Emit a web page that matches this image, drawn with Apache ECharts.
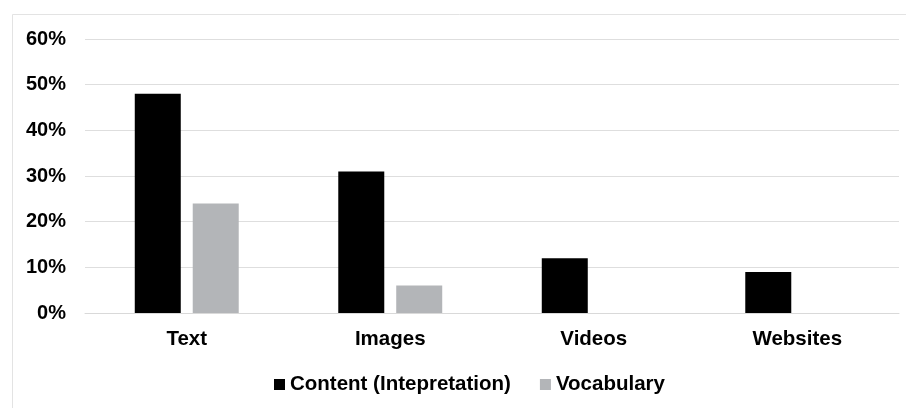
<!DOCTYPE html>
<html>
<head>
<meta charset="utf-8">
<script src="https://cdn.jsdelivr.net/npm/echarts@6/dist/echarts.min.js"></script>
<style>
  html, body { margin: 0; padding: 0; background: #fff; }
  #chart { width: 906px; height: 408px; }
</style>
</head>
<body>
<div id="chart"></div>
<script>
// values, in percent
const categories = ['Text', 'Images', 'Videos', 'Websites'];
const contentValues = [48, 31, 12, 9];
const vocabularyValues = [24, 6, 0, 0];
const yTicks = [0, 10, 20, 30, 40, 50, 60];

const chart = echarts.init(document.getElementById('chart'), null, { renderer: 'canvas' });

const font = 'Liberation Sans, Arial, sans-serif';

chart.setOption({
  animation: false,
  graphic: [{
    type: 'rect',
    shape: { x: 12.5, y: 14.5, width: 900, height: 400 },
    style: { fill: 'none', stroke: '#e3e3e3', lineWidth: 1 },
    silent: true
  }],
  grid: { left: 85, right: 7, top: 39, bottom: 95 },
  legend: {
    top: 369,
    left: 269,
    itemWidth: 11,
    itemHeight: 11,
    itemGap: 29,
    icon: 'rect',
    textStyle: { fontFamily: font, fontWeight: 'bold', fontSize: 20.5, color: '#000' },
    data: ['Content (Intepretation)', 'Vocabulary']
  },
  xAxis: {
    type: 'category',
    data: categories,
    axisLine: { lineStyle: { color: '#d9d9d9' } },
    axisTick: { show: false },
    axisLabel: { margin: 16, fontFamily: font, fontWeight: 'bold', fontSize: 20.5, color: '#000' }
  },
  yAxis: {
    type: 'value',
    min: yTicks[0],
    max: yTicks[yTicks.length - 1],
    interval: 10,
    axisLine: { show: false },
    axisTick: { show: false },
    splitLine: { lineStyle: { color: '#dedede' } },
    axisLabel: {
      margin: 19,
      fontFamily: font, fontWeight: 'bold', fontSize: 20, color: '#000',
      formatter: v => v + '%'
    }
  },
  series: [
    {
      name: 'Content (Intepretation)',
      type: 'bar',
      data: contentValues,
      barWidth: 46,
      barGap: '26%',
      itemStyle: { color: '#000' }
    },
    {
      name: 'Vocabulary',
      type: 'bar',
      data: vocabularyValues,
      barWidth: 46,
      itemStyle: { color: '#b3b5b8' }
    }
  ]
});
</script>
</body>
</html>
